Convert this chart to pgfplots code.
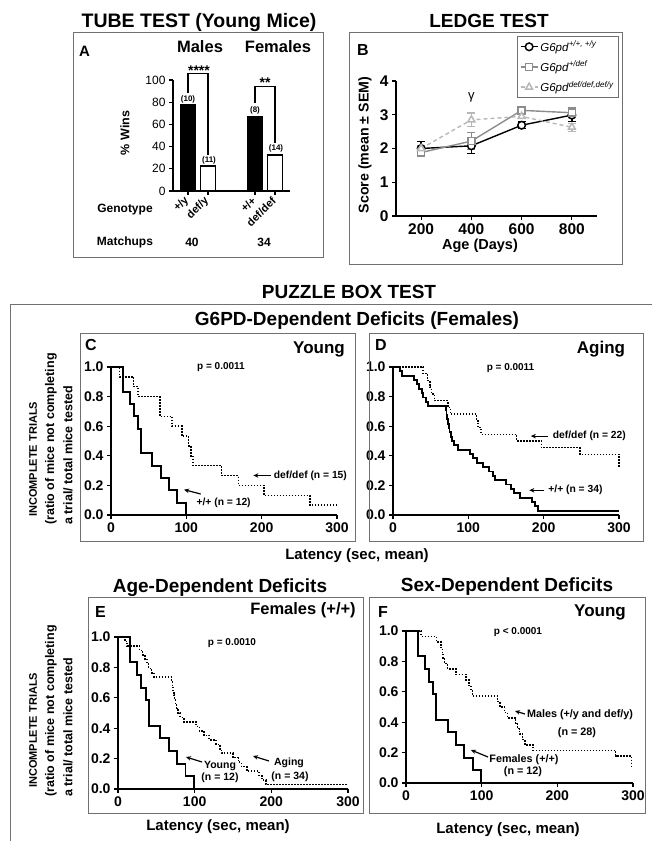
\documentclass[border=0pt]{standalone}
\usepackage{fontspec}
\setmainfont{Liberation Sans}
\usepackage{pgfplots}
\usepackage{pgfplotstable}
\pgfplotsset{compat=1.18}
\usetikzlibrary{arrows.meta}
\definecolor{frame}{HTML}{707070}
\definecolor{gmid}{HTML}{8C8C8C}
\definecolor{glight}{HTML}{B8B8B8}
\newcommand{\fs}[1]{\fontsize{#1}{#1}\selectfont}

\pgfplotstableread{
t s
0 1
16 0.8333
25 0.75
30 0.6667
36 0.5833
40 0.4167
55 0.3333
66 0.25
77 0.1667
88 0.0833
99 0
}\youngF

\pgfplotstableread{
t s
0 1
11 0.9333
30 0.8667
36 0.8
65 0.6667
81 0.6
94 0.5333
103 0.4667
106 0.4
109 0.3333
147 0.2667
169 0.2
203 0.1333
264 0.0667
300 0.0667
}\defC

\pgfplotstableread{
t s
0 1
9 0.9706
12 0.9412
28 0.9118
32 0.8824
35 0.8529
38 0.8235
40 0.7941
44 0.7647
47 0.7353
70 0.7059
71 0.6765
72 0.6471
73 0.6176
74 0.5882
75 0.5588
76.5 0.5294
78 0.5
81 0.4706
86 0.4412
102 0.4118
106 0.3824
112 0.3529
119 0.3235
128 0.2941
133 0.2647
135 0.2353
150 0.2059
157 0.1765
161 0.1471
168 0.1176
184 0.0882
188 0.0588
193 0.0294
300 0.0294
}\agingF

\pgfplotstableread{
t s
0 1
40 0.9545
46 0.9091
49 0.8636
51 0.8182
55 0.7727
73 0.7273
76 0.6818
111 0.6364
113 0.5909
117 0.5455
164 0.5
197 0.4545
248 0.4091
300 0.3182
}\defD

\pgfplotstableread{
t s
0 1
20 0.9643
40 0.9286
46 0.8929
48 0.8571
49 0.8214
51 0.7857
55 0.75
66 0.7143
79 0.6786
83 0.6429
86 0.6071
88 0.5714
121 0.5357
124 0.5
130 0.4643
134 0.4286
145 0.3929
147.5 0.3571
150 0.3214
154 0.2857
157 0.25
168 0.2143
277 0.1786
298 0.1071
300 0.1071
}\males

\pgfplotsset{
  gp/.style={scale only axis, axis lines=left, axis line style={-, line width=1.4pt},
    tick align=outside, major tick length=4pt, tick style={line width=1.2pt, black},
    enlargelimits=false, clip=false, anchor=south west,
    /pgf/number format/assume math mode=true,
    ticklabel style={font=\bfseries\fs{14}}},
  km/.style={gp, xmin=0, xmax=300, ymin=0, ymax=1, xtick={0,100,200,300},
    ytick={0,0.2,0.4,0.6,0.8,1}, yticklabels={0.0,0.2,0.4,0.6,0.8,1.0}},
  solidkm/.style={const plot, black, line width=1.9pt},
  dotkm/.style={const plot, black, line width=1.5pt, dash pattern=on 1.5pt off 1.5pt},
}
\tikzset{
  arr/.style={-{Stealth[length=5pt,width=4.5pt]}, line width=1.2pt},
  ann/.style={font=\bfseries\fs{10.3}, inner sep=0pt},
}

\begin{document}
\begin{tikzpicture}
\path[use as bounding box] (0pt,0pt) rectangle (652pt,-841pt);

% ---------------- Panel A
\begin{axis}[gp, at={(173pt,-191pt)}, width=117pt, height=111pt,
  xmin=0, xmax=117, ymin=0, ymax=100, ytick={0,20,40,60,80,100},
  yticklabel style={font=\fs{12}},
  xtick={15,35,82,102}, xticklabels={+/y,def/y,+/+,def/def},
  xticklabel style={rotate=45, anchor=east, font=\bfseries\fs{11}, yshift=-2pt}]
\addplot[ybar, bar width=15, bar shift=0pt, fill=black, draw=black, line width=1pt] coordinates {(15,77.5) (82,67.5)};
\addplot[ybar, bar width=15, bar shift=0pt, fill=white, draw=black, line width=1.2pt] coordinates {(35,22.5) (102,32.5)};
\draw[line width=1.2pt] (axis cs:15,88.5) -- (axis cs:15,105.5) -- (axis cs:35,105.5) -- (axis cs:35,32.5);
\draw[line width=1.2pt] (axis cs:82,79) -- (axis cs:82,94.5) -- (axis cs:102,94.5) -- (axis cs:102,43);
\end{axis}

% ---------------- Panel B
\begin{axis}[gp, at={(396pt,-216pt)}, width=201pt, height=135pt,
  xmin=100, xmax=900, ymin=0, ymax=4, xtick={200,400,600,800}, ytick={0,1,2,3,4},
  ticklabel style={font=\bfseries\fs{15.5}},
  legend style={at={(1.109,1.333)}, anchor=north east, draw=frame, line width=0.8pt,
    font=\fs{11.5}, inner sep=2.5pt, row sep=4.5pt, cells={anchor=west}},
  legend cell align=left]
\addplot[black, line width=1.4pt, mark=*, mark size=3.8pt, mark options={fill=white, draw=black, line width=1.5pt, solid},
  error bars/.cd, y dir=both, y explicit, error bar style={line width=1.3pt, black},
  error mark options={rotate=90, mark size=4pt, line width=1.3pt, black}]
  coordinates {(200,2.0) +- (0,0.2) (400,2.08) +- (0,0.22) (600,2.69) +- (0,0.1) (800,2.99) +- (0,0.2)};
\addlegendentry{\textit{G6pd}\textsuperscript{\textit{+/+, +/y}}}
\addplot[gmid, line width=1.4pt, mark=square*, mark size=3.5pt, mark options={fill=white, draw=gmid, line width=1.5pt, solid},
  error bars/.cd, y dir=both, y explicit, error bar style={line width=1.3pt, gmid},
  error mark options={rotate=90, mark size=4pt, line width=1.3pt, gmid}]
  coordinates {(200,1.88) +- (0,0.07) (400,2.22) +- (0,0.25) (600,3.13) +- (0,0.08) (800,3.06) +- (0,0.15)};
\addlegendentry{\textit{G6pd}\textsuperscript{\textit{+/def}}}
\addplot[glight, line width=1.4pt, dash pattern=on 4pt off 3pt, mark=triangle*, mark size=4pt, mark options={fill=white, draw=glight, line width=1.5pt, solid},
  error bars/.cd, y dir=both, y explicit, error bar style={line width=1.3pt, glight, solid},
  error mark options={rotate=90, mark size=4pt, line width=1.3pt, glight, solid}]
  coordinates {(200,2.0) +- (0,0.08) (400,2.85) +- (0,0.2) (600,2.95) +- (0,0.06) (800,2.63) +- (0,0.12)};
\addlegendentry{\textit{G6pd}\textsuperscript{\textit{def/def,def/y}}}
\node[font=\fs{13}] at (axis cs:400,3.5) {γ};
\end{axis}

% ---------------- Panel C
\begin{axis}[km, at={(111pt,-515pt)}, width=226pt, height=148pt]
\addplot[dotkm] table[x=t,y=s] {\defC};
\addplot[solidkm] table[x=t,y=s] {\youngF};
\node[font=\bfseries\fs{10}, inner sep=0pt] at (axis cs:146,1.0) {p = 0.0011};
\draw[arr] (axis cs:212,0.267) -- (axis cs:189,0.267);
\node[ann, anchor=west] at (axis cs:216,0.267) {def/def (n = 15)};
\draw[arr] (axis cs:119,0.142) -- (axis cs:97,0.171);
\node[ann] at (axis cs:149.5,0.082) {+/+ (n = 12)};
\end{axis}

% ---------------- Panel D
\begin{axis}[km, at={(393pt,-515pt)}, width=226pt, height=148pt]
\addplot[dotkm] table[x=t,y=s] {\defD};
\addplot[solidkm] table[x=t,y=s] {\agingF};
\node[font=\bfseries\fs{10}, inner sep=0pt] at (axis cs:156,0.99) {p = 0.0011};
\draw[arr] (axis cs:206,0.533) -- (axis cs:183,0.533);
\node[ann, anchor=west] at (axis cs:212,0.533) {def/def (n = 22)};
\draw[arr] (axis cs:201,0.167) -- (axis cs:181,0.167);
\node[ann, anchor=west] at (axis cs:206,0.167) {+/+ (n = 34)};
\end{axis}

% ---------------- Panel E
\begin{axis}[km, at={(118pt,-789pt)}, width=230pt, height=152pt]
\addplot[dotkm] table[x=t,y=s] {\agingF};
\addplot[solidkm] table[x=t,y=s] {\youngF};
\end{axis}

% ---------------- Panel F
\begin{axis}[km, at={(406pt,-783pt)}, width=227pt, height=152pt]
\addplot[dotkm] table[x=t,y=s] {\males};
\addplot[solidkm] table[x=t,y=s] {\youngF};
\end{axis}

\begin{scope}[x=1pt, y=-1pt, every node/.style={inner sep=0pt}]
% frames
\draw[frame, line width=1pt] (73,32) rectangle (323,257);
\draw[frame, line width=1pt] (349,32) rectangle (622,264);
\draw[frame, line width=1pt] (652,304) -- (10,304) -- (10,841);
\draw[frame, line width=1pt] (80,333.5) rectangle (355,541);
\draw[frame, line width=1pt] (369,333) rectangle (643,541);
\draw[frame, line width=1pt] (88,597) rectangle (363,813);
\draw[frame, line width=1pt] (369,597) rectangle (645,813);

% titles
\node[font=\bfseries\fs{19.5}] at (199,22) {TUBE TEST (Young Mice)};
\node[font=\bfseries\fs{19}] at (489,21) {LEDGE TEST};
\node[font=\bfseries\fs{19}] at (349,292) {PUZZLE BOX TEST};
\node[font=\bfseries\fs{19}] at (357,321) {G6PD-Dependent Deficits (Females)};
\node[font=\bfseries\fs{19}] at (220,588) {Age-Dependent Deficits};
\node[font=\bfseries\fs{19}] at (507,587) {Sex-Dependent Deficits};

% panel A texts
\node[font=\bfseries\fs{15}, anchor=west] at (79,51) {A};
\node[font=\bfseries\fs{16.5}] at (200,47) {Males};
\node[font=\bfseries\fs{16.5}] at (278,47) {Females};
\node[font=\bfseries\fs{14}] at (199,71) {****};
\node[font=\bfseries\fs{14}] at (265,83) {**};
\node[font=\bfseries\fs{8}] at (188,99.5) {(10)};
\node[font=\bfseries\fs{8}] at (209,160) {(11)};
\node[font=\bfseries\fs{8}] at (255,110) {(8)};
\node[font=\bfseries\fs{8}] at (276,148) {(14)};
\node[font=\bfseries\fs{12.5}, rotate=90] at (125,133) {\% Wins};
\node[font=\bfseries\fs{12}] at (125,210) {Genotype};
\node[font=\bfseries\fs{12}] at (125,242) {Matchups};
\node[font=\bfseries\fs{12}] at (192,242) {40};
\node[font=\bfseries\fs{12}] at (264,242) {34};

% panel B texts
\node[font=\bfseries\fs{16}] at (363,50) {B};
\node[font=\bfseries\fs{14.2}, rotate=90] at (365,145) {Score (mean ± SEM)};
\node[font=\bfseries\fs{14.5}] at (480,246) {Age (Days)};

% panel C / D texts
\node[font=\bfseries\fs{16}, anchor=west] at (85,345) {C};
\node[font=\bfseries\fs{17}] at (319,349) {Young};
\node[font=\bfseries\fs{16}, anchor=west] at (375,345) {D};
\node[font=\bfseries\fs{17}] at (601,349) {Aging};
\node[font=\bfseries\fs{15}] at (357,556) {Latency (sec, mean)};

% y labels
\node[font=\bfseries\fs{11}, rotate=90, anchor=west] at (33,517) {INCOMPLETE TRIALS};
\node[font=\bfseries\fs{12.5}, rotate=90, anchor=west] at (51,525) {(ratio of mice not completing};
\node[font=\bfseries\fs{12.5}, rotate=90, anchor=west] at (68,525) {a trial/ total mice tested};
\node[font=\bfseries\fs{11}, rotate=90, anchor=west] at (33,788) {INCOMPLETE TRIALS};
\node[font=\bfseries\fs{12.5}, rotate=90, anchor=west] at (51,797) {(ratio of mice not completing};
\node[font=\bfseries\fs{12.5}, rotate=90, anchor=west] at (68,797) {a trial/ total mice tested};

% panel E texts
\node[font=\bfseries\fs{16}, anchor=west] at (95,612) {E};
\node[font=\bfseries\fs{16.5}] at (303,610) {Females (+/+)};
\node[font=\bfseries\fs{10}] at (232,643) {p = 0.0010};
\draw[arr] (202,762) -- (186,757);
\node[font=\bfseries\fs{10.5}] at (220,766) {Young};
\node[font=\bfseries\fs{10.5}] at (220,778) {(n = 12)};
\draw[arr] (269,761) -- (253,756);
\node[font=\bfseries\fs{10.5}] at (289,763) {Aging};
\node[font=\bfseries\fs{10.5}] at (290,777) {(n = 34)};
\node[font=\bfseries\fs{15}] at (218,827) {Latency (sec, mean)};

% panel F texts
\node[font=\bfseries\fs{16}, anchor=west] at (378,612) {F};
\node[font=\bfseries\fs{17}] at (600,612) {Young};
\node[font=\bfseries\fs{10}] at (518,632) {p < 0.0001};
\draw[arr] (525,714) -- (515,711);
\node[font=\bfseries\fs{10.8}] at (580,715) {Males (+/y and def/y)};
\node[font=\bfseries\fs{10.8}] at (577,733) {(n = 28)};
\draw[arr] (488,757) -- (471,750);
\node[font=\bfseries\fs{10.8}] at (524,760) {Females (+/+)};
\node[font=\bfseries\fs{10.8}] at (523,772) {(n = 12)};
\node[font=\bfseries\fs{15}] at (508,830) {Latency (sec, mean)};
\end{scope}
\end{tikzpicture}
\end{document}
